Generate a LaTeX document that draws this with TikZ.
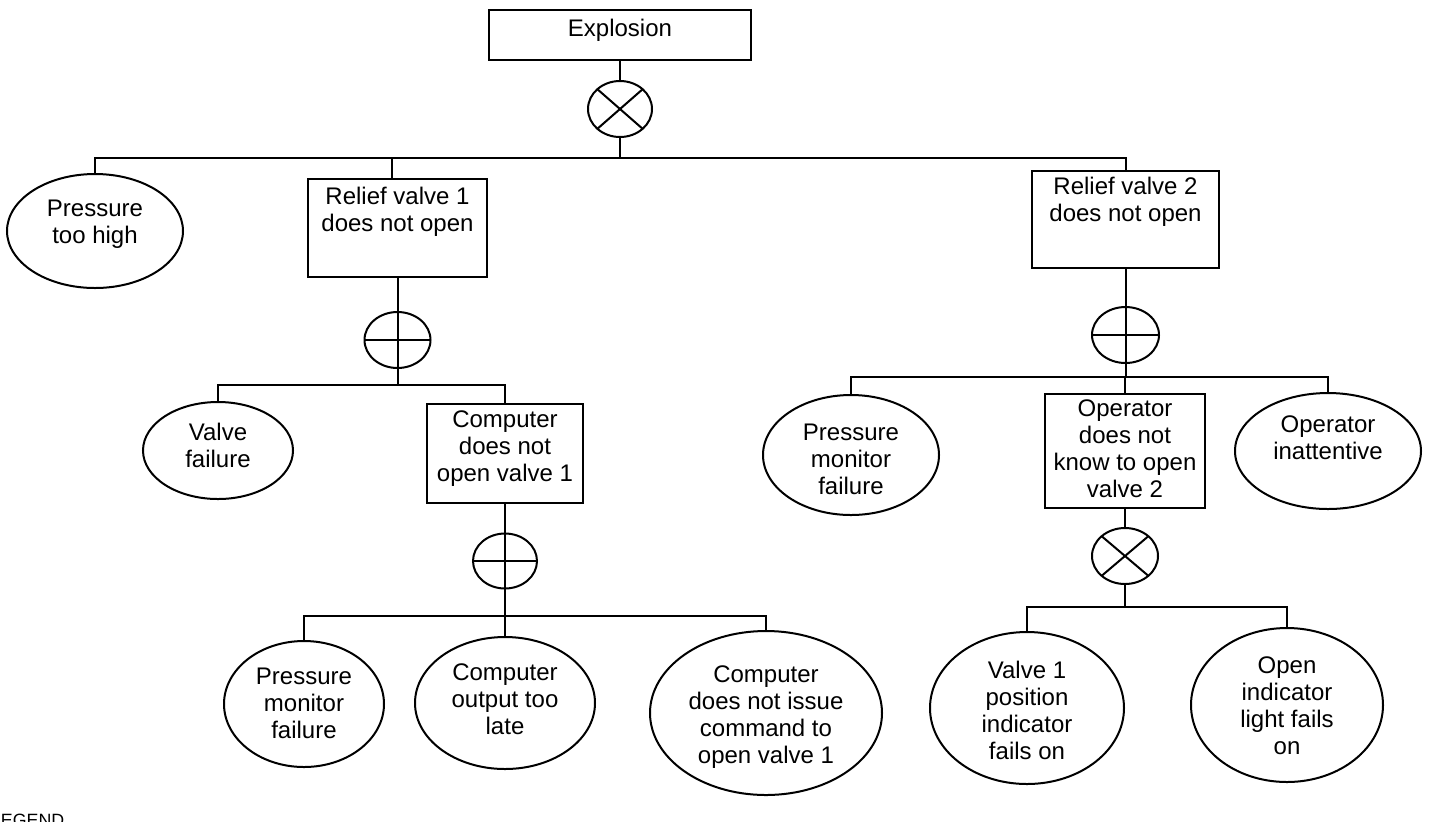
\documentclass[tikz,border=0pt]{standalone}
\usepackage{fontspec}
\setmainfont{Liberation Sans}
\usetikzlibrary{shapes.geometric}

\begin{document}
\begin{tikzpicture}[x=0.5pt, y=-0.5pt,
  every node/.style={inner sep=0pt, outer sep=0pt},
  line/.style={line width=1pt},
  evbox/.style={draw, line width=1pt, rectangle},
  evell/.style={draw, line width=1pt, ellipse},
  gate/.style={draw, line width=1pt, ellipse},
  lbl/.style={anchor=north, align=center, font=\fontsize{12}{13.5}\selectfont},
]
\useasboundingbox (0,0) rectangle (1430,821);

% bus levels
\coordinate (b1) at (0,158);
\coordinate (b2) at (0,385);
\coordinate (b3) at (0,616);
\coordinate (b4) at (0,377);
\coordinate (b5) at (0,607);

% top event and gate
\node[evbox, line width=1.4pt, minimum width=131pt, minimum height=25pt] (expl) at (620,35) {};
\node[lbl] (explt) at (620,19) {Explosion};
\node[gate, minimum width=32pt, minimum height=28pt] (g1) at (620,109) {};
\draw[line] (g1.north west) -- (g1.south east) (g1.north east) -- (g1.south west);

% first level
\node[evell, minimum width=88pt, minimum height=57pt] (pth) at (95,231) {};
\node[lbl] (ptht) at (95,200) {Pressure\\too high};
\node[evbox, minimum width=89.5pt, minimum height=49pt] (rv1) at (397.5,228) {};
\node[lbl] (rv1t) at (397.5,187) {Relief valve 1\\does not open};
\node[evbox, minimum width=93.5pt, minimum height=48.5pt] (rv2) at (1125.5,219.5) {};
\node[lbl] (rv2t) at (1125.5,177) {Relief valve 2\\does not open};

% relief valve 1 branch
\node[gate, minimum width=33pt, minimum height=28pt] (g2) at (397.5,340) {};
\draw[line] (g2.west) -- (g2.east) (g2.north) -- (g2.south);
\node[evell, minimum width=75pt, minimum height=48.5pt] (vf) at (218,450.5) {};
\node[lbl] (vft) at (218,423) {Valve\\failure};
\node[evbox, minimum width=78pt, minimum height=49.5pt] (cdo) at (505,453.5) {};
\node[lbl] (cdot) at (505,411) {Computer\\does not\\open valve 1};
\node[gate, minimum width=32pt, minimum height=27.5pt] (g3) at (505,561) {};
\draw[line] (g3.west) -- (g3.east) (g3.north) -- (g3.south);
\node[evell, minimum width=80pt, minimum height=63pt] (pmf1) at (304,704) {};
\node[lbl] (pmf1t) at (304,668) {Pressure\\monitor\\failure};
\node[evell, minimum width=90pt, minimum height=66pt] (cotl) at (505,703) {};
\node[lbl] (cotlt) at (505,664) {Computer\\output too\\late};
\node[evell, minimum width=116pt, minimum height=82pt] (cdni) at (766,713) {};
\node[lbl] (cdnit) at (766,666) {Computer\\does not issue\\command to\\open valve 1};

% relief valve 2 branch
\node[gate, minimum width=33.5pt, minimum height=28pt] (g4) at (1125.5,335) {};
\draw[line] (g4.west) -- (g4.east) (g4.north) -- (g4.south);
\node[evell, minimum width=88pt, minimum height=60pt] (pmf2) at (851,455) {};
\node[lbl] (pmf2t) at (851,424) {Pressure\\monitor\\failure};
\node[evbox, minimum width=80pt, minimum height=57pt] (odk) at (1125,451) {};
\node[lbl] (odkt) at (1125,400) {Operator\\does not\\know to open\\valve 2};
\node[evell, minimum width=93pt, minimum height=58pt] (oi) at (1328,451) {};
\node[lbl] (oit) at (1328,416) {Operator\\inattentive};
\node[gate, minimum width=33pt, minimum height=28pt] (g5) at (1125,556) {};
\draw[line] (g5.north west) -- (g5.south east) (g5.north east) -- (g5.south west);
\node[evell, minimum width=97pt, minimum height=76pt] (vpi) at (1027,708) {};
\node[lbl] (vpit) at (1027,661) {Valve 1\\position\\indicator\\fails on};
\node[evell, minimum width=96pt, minimum height=77pt] (oil) at (1287,705) {};
\node[lbl] (oilt) at (1287,657) {Open\\indicator\\light fails\\on};

% connectors: top
\draw[line] (expl.south) -- (g1.north);
\draw[line] (g1.south) -- (g1.south |- b1);
\draw[line] (pth.north) |- (rv2.north |- b1) -- (rv2.north);
\draw[line] ([xshift=-3pt]rv1.north |- b1) -- ([xshift=-3pt]rv1.north);

% connectors: relief valve 1
\draw[line] (rv1.south) -- (g2.north);
\draw[line] (g2.south) -- (g2.south |- b2);
\draw[line] (vf.north) |- (cdo.north |- b2) -- (cdo.north);
\draw[line] (cdo.south) -- (g3.north);
\draw[line] (g3.south) -- (g3.south |- b3);
\draw[line] (pmf1.north) |- (cdni.north |- b3) -- (cdni.north);
\draw[line] (cotl.north) -- (cotl.north |- b3);

% connectors: relief valve 2
\draw[line] (rv2.south) -- (g4.north);
\draw[line] (g4.south) -- (g4.south |- b4);
\draw[line] (pmf2.north) |- (oi.north |- b4) -- (oi.north);
\draw[line] (odk.north) -- (odk.north |- b4);
\draw[line] (odk.south) -- (g5.north);
\draw[line] (g5.south) -- (g5.south |- b5);
\draw[line] (vpi.north) |- (oil.north |- b5) -- (oil.north);

% legend heading at the foot of the page
\node[anchor=base west, font=\fontsize{8.9}{10}\selectfont] (legend) at (1,826) {EGEND};
\end{tikzpicture}
\end{document}
